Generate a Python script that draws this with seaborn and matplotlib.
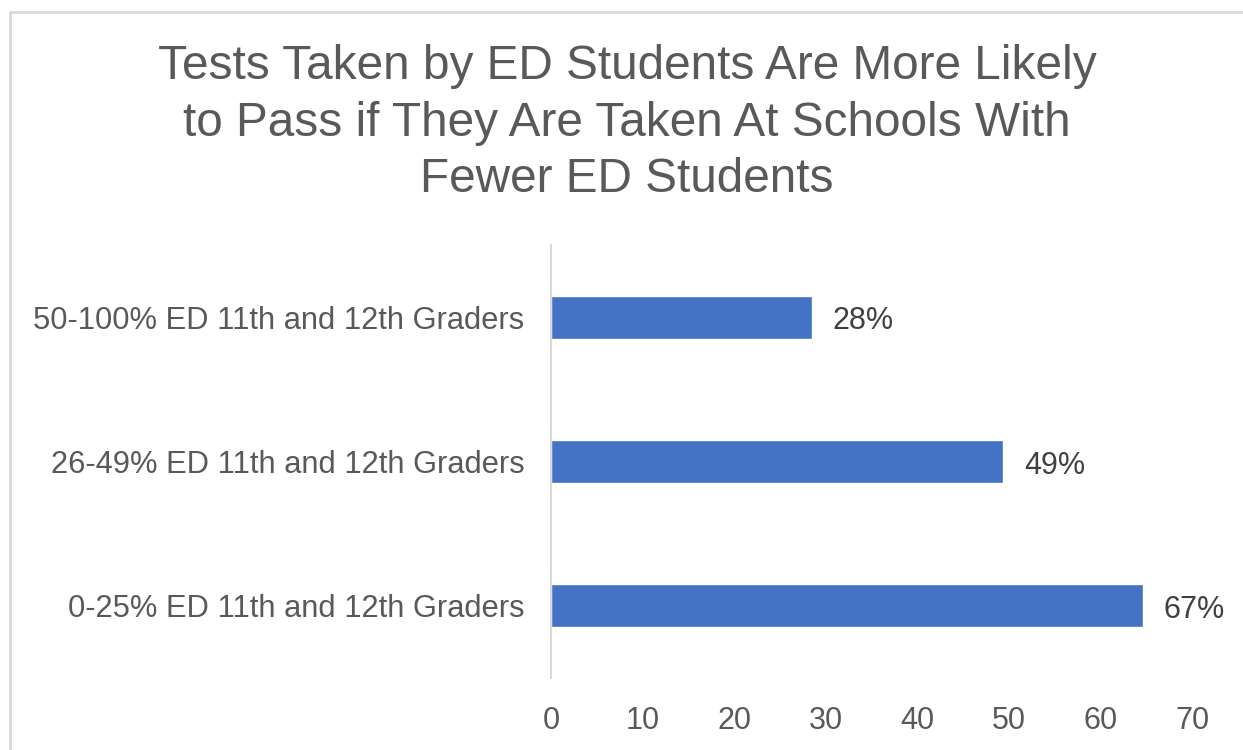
import matplotlib
matplotlib.use('Agg')
import matplotlib.pyplot as plt
import seaborn as sns
import pandas as pd
from matplotlib.lines import Line2D

# data
categories = ['50-100% ED 11th and 12th Graders',
              '26-49% ED 11th and 12th Graders',
              '0-25% ED 11th and 12th Graders']
bar_values = [28.5, 49.4, 64.6]
bar_labels = ['28%', '49%', '67%']
x_ticks = [0, 10, 20, 30, 40, 50, 60, 70]

title = ('Tests Taken by ED Students Are More Likely\n'
         'to Pass if They Are Taken At Schools With\n'
         'Fewer ED Students')

df = pd.DataFrame({'group': categories, 'value': bar_values})

sns.set_style('white')
plt.rcParams['font.family'] = ['Liberation Sans', 'DejaVu Sans']

fig = plt.figure(figsize=(12.43, 7.5), dpi=100)
ax = fig.add_axes([551 / 1243, 1 - 678 / 750, (1192 - 551) / 1243, (678 - 245) / 750])

sns.barplot(data=df, x='value', y='group', orient='h', color='#4472C4',
            width=0.3, saturation=1, ax=ax)

ax.set_xlim(0, 70)
ax.set_xticks(x_ticks)
ax.set_xlabel('')
ax.set_ylabel('')
ax.tick_params(axis='x', length=0, pad=20, labelsize=22, labelcolor='#595959')
ax.tick_params(axis='y', length=0, pad=19, labelsize=22.2, labelcolor='#595959')

for s in ['top', 'right', 'bottom']:
    ax.spines[s].set_visible(False)
ax.spines['left'].set_color('#D9D9D9')
ax.spines['left'].set_linewidth(1.5)

# value labels next to each bar
for i, (v, lab) in enumerate(zip(bar_values, bar_labels)):
    ax.annotate(lab, xy=(v, i), xytext=(15, -3), textcoords='offset points',
                ha='left', va='center', fontsize=22, color='#404040')

fig.text(627 / 1243, 1 - 123 / 750, title, ha='center', va='center',
         fontsize=34.4, color='#595959', linespacing=1.33)

# outer chart border (only left and top visible in the crop)
fig.add_artist(Line2D([9.5 / 1243, 9.5 / 1243], [0, 1 - 11.5 / 750],
                      transform=fig.transFigure, color='#D9D9D9', lw=2))
fig.add_artist(Line2D([9.5 / 1243, 1], [1 - 11.5 / 750, 1 - 11.5 / 750],
                      transform=fig.transFigure, color='#D9D9D9', lw=2))

fig.savefig('out.png', dpi=100)
